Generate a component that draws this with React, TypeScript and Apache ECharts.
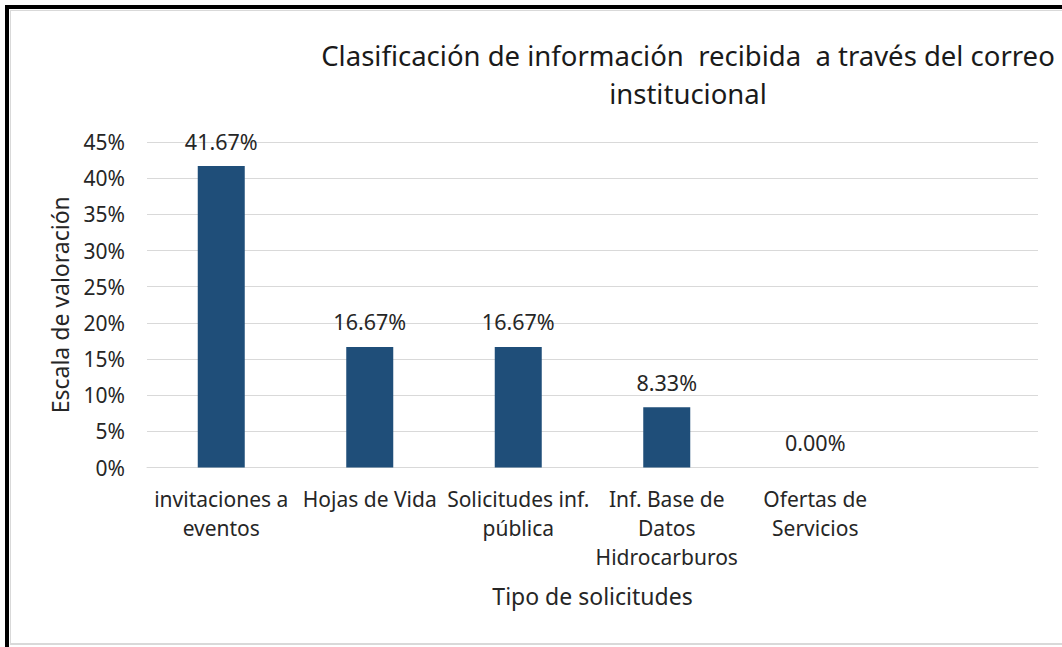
import React, { useEffect, useRef } from "react";
import * as echarts from "echarts";

const categories = [
  "invitaciones a\neventos",
  "Hojas de Vida",
  "Solicitudes inf.\npública",
  "Inf. Base de\nDatos\nHidrocarburos",
  "Ofertas de\nServicios",
  "",
];
const values: (number | null)[] = [0.4167, 0.1667, 0.1667, 0.0833, 0, null];
const titleText = "Clasificación de información  recibida  a través del correo\ninstitucional";
const yAxisTitle = "Escala de valoración";
const xAxisTitle = "Tipo de solicitudes";

const FONT = "'Noto Sans', 'Open Sans', sans-serif";
const TXT = "#262626";

export default function App() {
  const ref = useRef<HTMLDivElement>(null);
  useEffect(() => {
    document.body.style.margin = "0";
    const chart = echarts.init(ref.current!, null, { renderer: "svg" });
    chart.setOption({
      animation: false,
      backgroundColor: "#ffffff",
      textStyle: { fontFamily: FONT },
      graphic: [
        { type: "rect", shape: { x: 5, y: 5, width: 4, height: 642 }, style: { fill: "#000" }, silent: true },
        { type: "rect", shape: { x: 5, y: 5, width: 1057, height: 4 }, style: { fill: "#000" }, silent: true },
        { type: "line", shape: { x1: 10, y1: 10.5, x2: 1062, y2: 10.5 }, style: { stroke: "#d9d9d9", lineWidth: 1 }, silent: true },
        { type: "line", shape: { x1: 10.5, y1: 10, x2: 10.5, y2: 644 }, style: { stroke: "#d9d9d9", lineWidth: 1 }, silent: true },
        { type: "rect", shape: { x: 10, y: 643, width: 1052, height: 2 }, style: { fill: "#d9d9d9" }, silent: true },
        {
          type: "text",
          x: 688,
          y: 36,
          style: {
            text: titleText,
            fontFamily: FONT,
            fontSize: 27.5,
            lineHeight: 38,
            fill: "#1a1a1a",
            textAlign: "center",
            textVerticalAlign: "top",
          },
        },
      ],
      grid: { left: 147, right: 24, top: 142, bottom: 179.5, containLabel: false },
      xAxis: {
        type: "category",
        data: categories,
        name: xAxisTitle,
        nameLocation: "middle",
        nameGap: 117,
        nameTextStyle: { fontSize: 23, color: TXT, fontFamily: FONT },
        axisLine: { show: true, lineStyle: { color: "#d9d9d9", width: 1 } },
        axisTick: { show: false },
        axisLabel: {
          interval: 0,
          margin: 17,
          fontSize: 21,
          lineHeight: 29,
          color: TXT,
          fontFamily: FONT,
        },
      },
      yAxis: {
        type: "value",
        min: 0,
        max: 0.45,
        interval: 0.05,
        name: yAxisTitle,
        nameLocation: "middle",
        nameRotate: 90,
        nameGap: 76,
        nameTextStyle: { fontSize: 23, color: TXT, fontFamily: FONT },
        axisLine: { show: false },
        axisTick: { show: false },
        splitLine: { lineStyle: { color: "#d9d9d9", width: 1 } },
        axisLabel: {
          margin: 22,
          fontSize: 21,
          color: TXT,
          fontFamily: FONT,
          formatter: (v: number) => `${Math.round(v * 100)}%`,
        },
      },
      series: [
        {
          type: "bar",
          data: values,
          barWidth: 47,
          itemStyle: { color: "#1F4E79" },
          label: {
            show: true,
            position: "top",
            distance: 14,
            fontSize: 21.5,
            lineHeight: 22,
            color: TXT,
            fontFamily: FONT,
            formatter: (p: any) => (p.value == null ? "" : `${(p.value * 100).toFixed(2)}%`),
          },
        },
      ],
    });
    return () => chart.dispose();
  }, []);
  return <div ref={ref} style={{ width: 1062, height: 647 }} />;
}
